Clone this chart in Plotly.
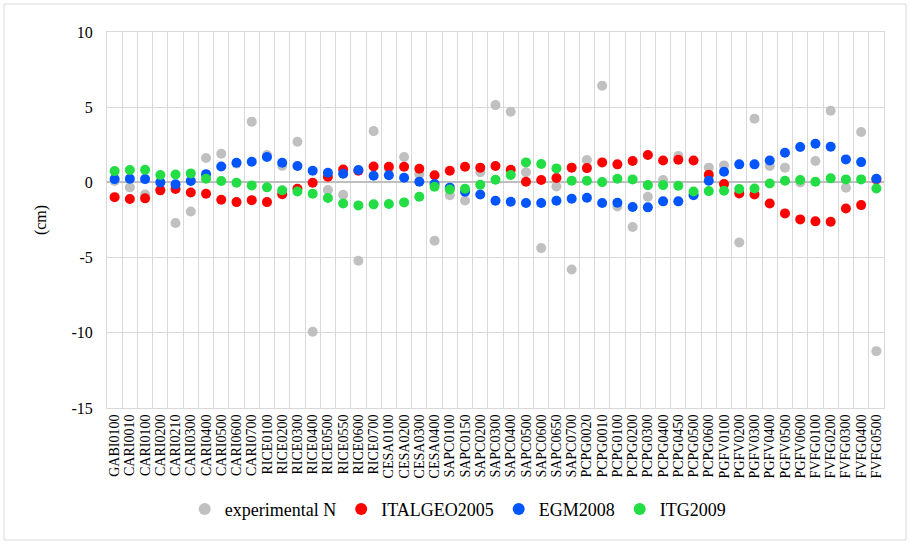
import plotly.graph_objects as go

stations = ["GABI0100", "CARI0010", "CARI0100", "CARI0200", "CARI0210", "CARI0300", "CARI0400",
            "CARI0500", "CARI0600", "CARI0700", "RICE0100", "RICE0200", "RICE0300", "RICE0400",
            "RICE0500", "RICE0550", "RICE0600", "RICE0700", "CESA0100", "CESA0200", "CESA0300",
            "CESA0400", "SAPC0100", "SAPC0150", "SAPC0200", "SAPC0300", "SAPC0400", "SAPC0500",
            "SAPC0600", "SAPC0650", "SAPC0700", "PCPG0020", "PCPG0010", "PCPG0100", "PCPG0200",
            "PCPG0300", "PCPG0400", "PCPG0450", "PCPG0500", "PCPG0600", "PGFV0100", "PGFV0200",
            "PGFV0300", "PGFV0400", "PGFV0500", "PGFV0600", "FVFG0100", "FVFG0200", "FVFG0300",
            "FVFG0400", "FVFG0500"]

experimental_n = [0.1, -0.33, -0.8, -0.45, -2.7, -1.93, 1.62, 1.91, 1.25, 4.04,
                  1.82, 1.1, 2.7, -9.93, -0.51, -0.82, -5.21, 3.41, 0.9, 1.69,
                  0.55, -3.88, -0.86, -1.2, 0.67, 5.14, 4.7, 0.67, -4.37, -0.27,
                  -5.79, 1.49, 6.43, -1.6, -2.97, -0.95, 0.16, 1.75, -0.75, 0.98,
                  1.13, -3.99, 4.24, 1.09, 0.98, 0.0, 1.42, 4.77, -0.35, 3.35, -11.22]

italgeo2005 = [-0.98, -1.1, -1.06, -0.53, -0.44, -0.67, -0.75, -1.15, -1.31, -1.18,
               -1.31, -0.78, -0.42, -0.02, 0.38, 0.86, 0.78, 1.06, 1.04, 1.04,
               0.91, 0.47, 0.78, 1.04, 0.98, 1.09, 0.84, 0.04, 0.16, 0.29,
               0.98, 0.95, 1.33, 1.2, 1.42, 1.82, 1.46, 1.51, 1.46, 0.51,
               -0.11, -0.73, -0.8, -1.4, -2.06, -2.46, -2.59, -2.62, -1.73, -1.51, 0.2]

egm2008 = [0.22, 0.24, 0.22, 0.0, -0.13, 0.09, 0.55, 1.06, 1.31, 1.37,
           1.69, 1.31, 1.09, 0.78, 0.64, 0.58, 0.82, 0.44, 0.47, 0.31,
           0.04, -0.11, -0.35, -0.62, -0.8, -1.22, -1.29, -1.37, -1.37, -1.22,
           -1.09, -1.02, -1.37, -1.35, -1.64, -1.66, -1.26, -1.26, -0.86, 0.11,
           0.71, 1.2, 1.2, 1.46, 1.97, 2.35, 2.57, 2.37, 1.53, 1.35, 0.24]

itg2009 = [0.75, 0.82, 0.84, 0.49, 0.53, 0.6, 0.24, 0.09, -0.02, -0.2,
           -0.33, -0.53, -0.6, -0.75, -1.04, -1.4, -1.53, -1.46, -1.44, -1.33,
           -0.95, -0.29, -0.47, -0.42, -0.16, 0.18, 0.49, 1.33, 1.22, 0.93,
           0.11, 0.11, 0.02, 0.24, 0.2, -0.18, -0.18, -0.22, -0.6, -0.58,
           -0.55, -0.44, -0.4, -0.07, 0.11, 0.16, 0.04, 0.27, 0.2, 0.2, -0.4]

y_ticks = [10, 5, 0, -5, -10, -15]
y_tick_labels = ["10", "5", "0", "-5", "-10", "-15"]

series = [
    ("experimental N", experimental_n, "#c0c0c0"),
    ("ITALGEO2005", italgeo2005, "#ff0000"),
    ("EGM2008", egm2008, "#0055ff"),
    ("ITG2009", itg2009, "#22dd44"),
]

font_family = "Liberation Serif"

fig = go.Figure()
for name, vals, color in series:
    fig.add_trace(go.Scatter(
        x=stations, y=vals, mode="markers", name=name,
        marker=dict(color=color, size=10, line=dict(width=0)),
    ))

fig.update_layout(
    width=910, height=544,
    margin=dict(l=107, r=26, t=32, b=136),
    paper_bgcolor="white", plot_bgcolor="white",
    font=dict(family=font_family, color="black"),
    showlegend=True,
    legend=dict(orientation="h", x=0.10, xanchor="left", y=-0.22, yanchor="top",
                font=dict(size=18, family=font_family), itemsizing="constant",
                itemwidth=30, tracegroupgap=0),
    xaxis=dict(
        type="category", tickson="boundaries", showgrid=True, gridcolor="#d9d9d9", gridwidth=1,
        tickmode="array", tickvals=stations, ticktext=stations,
        tickangle=-90, tickfont=dict(size=14, family=font_family), ticks="",
        ticklabelstandoff=0,
        showline=True, linecolor="#d9d9d9", linewidth=1, mirror=True,
        range=[-0.5, len(stations) - 0.5],
    ),
    yaxis=dict(
        range=[-15, 10], tickvals=y_ticks, ticktext=y_tick_labels,
        showgrid=True, gridcolor="#d9d9d9", gridwidth=1,
        zeroline=True, zerolinecolor="#bfbfbf", zerolinewidth=1.5,
        tickfont=dict(size=16, family=font_family), ticks="", ticklabelstandoff=10,
        showline=True, linecolor="#d9d9d9", linewidth=1, mirror=True,
        title=dict(text="(cm)", font=dict(size=16, family=font_family), standoff=20),
    ),
)

# outer chart border
pw = 910 - 107 - 26
ph = 544 - 32 - 136
fig.add_shape(type="rect", xref="paper", yref="paper",
              x0=(4 - 107) / pw, x1=(906 - 107) / pw,
              y0=(544 - 136 - 540) / ph, y1=(544 - 136 - 4) / ph,
              line=dict(color="#d9d9d9", width=1), fillcolor="rgba(0,0,0,0)", layer="below")

fig.write_html("out.html", config={"displayModeBar": False},
               post_script="document.body.style.margin='0px';")
